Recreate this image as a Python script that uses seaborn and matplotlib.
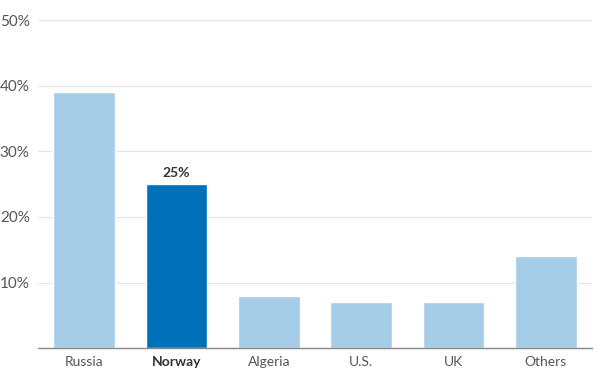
import matplotlib
matplotlib.use("Agg")
import matplotlib.pyplot as plt
import seaborn as sns
import pandas as pd

# Data
countries = ["Russia", "Norway", "Algeria", "U.S.", "UK", "Others"]
shares = [39, 25, 8, 7, 7, 14]
highlight = "Norway"

sns.set_style("white")
plt.rcParams['font.family'] = ['Lato', 'DejaVu Sans']

df = pd.DataFrame({"country": countries, "share": shares})
palette = {c: ("#0070b8" if c == highlight else "#a6cde8") for c in countries}

fig = plt.figure(figsize=(6.04, 3.78), dpi=100)
ax = fig.add_axes([0.063, 0.079, 0.917, 0.868])

sns.barplot(data=df, x="country", y="share", hue="country", palette=palette,
            width=0.67, legend=False, ax=ax, saturation=1)

ax.set_ylim(0, 50)
ax.set_xlim(-0.5, len(countries) - 0.5)
ax.set_yticks([10, 20, 30, 40, 50])
ax.set_yticklabels([f"{v}%" for v in [10, 20, 30, 40, 50]])
ax.yaxis.grid(True, color="#e6e6e6", linewidth=0.9)
ax.set_axisbelow(True)
for s in ["top", "right", "left"]:
    ax.spines[s].set_visible(False)
ax.spines["bottom"].set_color("#888888")
ax.spines["bottom"].set_linewidth(1)
ax.tick_params(axis="y", length=0, labelsize=11, labelcolor="#555555", pad=6)
ax.tick_params(axis="x", length=0, labelsize=10, labelcolor="#555555", pad=6)
ax.set_xlabel("")
ax.set_ylabel("")

for lbl in ax.get_xticklabels():
    if lbl.get_text() == highlight:
        lbl.set_fontweight("bold")
        lbl.set_color("#333333")

i = countries.index(highlight)
ax.text(i, shares[i] + 0.8, f"{shares[i]}%", ha="center", va="bottom",
        fontsize=10, fontweight="bold", color="#333333")

fig.savefig("out.png", dpi=100)
